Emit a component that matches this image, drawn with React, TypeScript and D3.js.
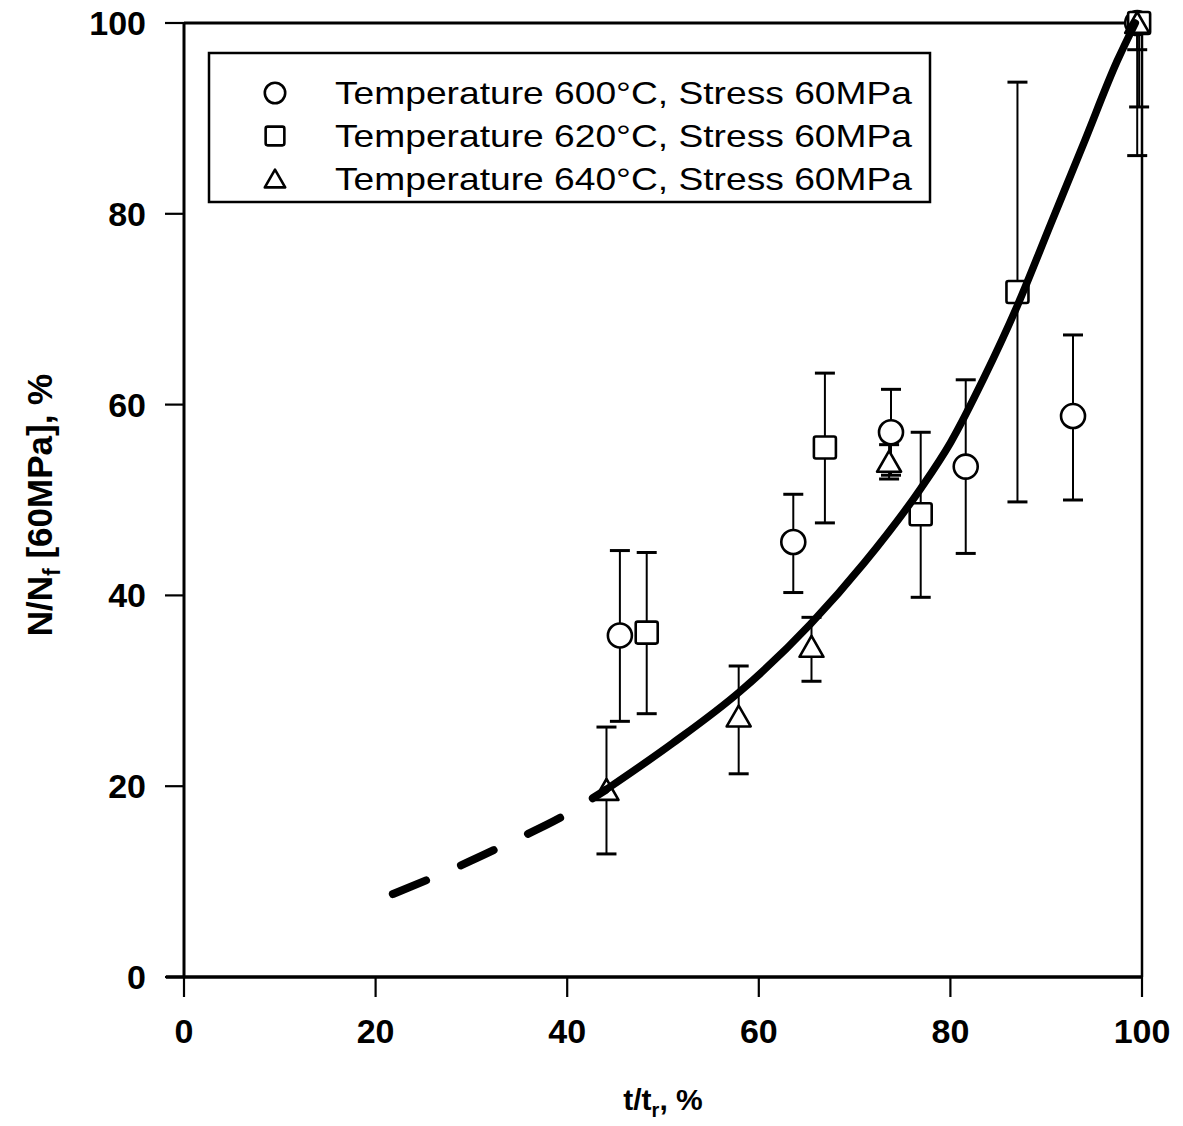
import React from "react";
import * as d3 from "d3";

// ---- data ----
const xTicks = [0, 20, 40, 60, 80, 100];
const yTicks = [0, 20, 40, 60, 80, 100];

type Pt = { x: number; y: number; lo: number; hi: number };

const series600: Pt[] = [
  { x: 45.5, y: 35.8, lo: 26.8, hi: 44.7 },
  { x: 63.6, y: 45.6, lo: 40.3, hi: 50.6 },
  { x: 73.8, y: 57.1, lo: 52.6, hi: 61.6 },
  { x: 81.6, y: 53.5, lo: 44.4, hi: 62.6 },
  { x: 92.8, y: 58.8, lo: 50.0, hi: 67.3 },
  { x: 99.5, y: 100, lo: 97.2, hi: 100 },
];
const series620: Pt[] = [
  { x: 48.3, y: 36.1, lo: 27.6, hi: 44.5 },
  { x: 66.9, y: 55.5, lo: 47.6, hi: 63.3 },
  { x: 76.9, y: 48.5, lo: 39.8, hi: 57.1 },
  { x: 87.0, y: 71.8, lo: 49.8, hi: 93.8 },
  { x: 99.7, y: 100, lo: 91.2, hi: 100 },
];
const series640: Pt[] = [
  { x: 44.1, y: 19.6, lo: 12.9, hi: 26.2 },
  { x: 57.9, y: 27.3, lo: 21.3, hi: 32.6 },
  { x: 65.5, y: 34.6, lo: 31.0, hi: 37.7 },
  { x: 73.6, y: 54.0, lo: 52.2, hi: 55.8 },
  { x: 99.5, y: 100, lo: 86.1, hi: 100 },
];

// fitted trend
const fitSolidX = [44, 51, 58, 65.4, 71, 76.9, 80, 83.5, 87, 90.5, 94, 97.4, 99.3];
const fitSolidY = [19.6, 24.5, 29.9, 37.0, 43.4, 51.2, 56.0, 62.8, 70.4, 79.0, 87.6, 96.0, 100];
const fitDashX = [21.8, 28, 34, 40, 44];
const fitDashY = [8.7, 11.3, 14.1, 17.1, 19.6];

const legendLabels = [
  "Temperature 600°C, Stress 60MPa",
  "Temperature 620°C, Stress 60MPa",
  "Temperature 640°C, Stress 60MPa",
];

const FONT = "'Liberation Sans', Arial, sans-serif";

function Marker({ kind, cx, cy, s = 1 }: { kind: number; cx: number; cy: number; s?: number }) {
  const sw = 2.6;
  if (kind === 0) return <circle cx={cx} cy={cy} r={12 * s} fill="white" stroke="black" strokeWidth={sw} />;
  if (kind === 1) {
    const h = 11 * s;
    return <rect x={cx - h} y={cy - h} width={2 * h} height={2 * h} rx={2} fill="white" stroke="black" strokeWidth={sw} />;
  }
  const w = 12 * s;
  const hh = 11 * s;
  return (
    <path
      d={`M${cx},${cy - hh}L${cx + w},${cy + hh * 0.9}L${cx - w},${cy + hh * 0.9}Z`}
      fill="white"
      stroke="black"
      strokeWidth={sw}
      strokeLinejoin="round"
    />
  );
}

export default function App() {
  const x = d3.scaleLinear().domain([0, 100]).range([184, 1142]);
  const y = d3.scaleLinear().domain([0, 100]).range([977, 23]);

  const line = d3
    .line<number>()
    .x((_, i) => x(fitSolidX[i]))
    .y((d) => y(d))
    .curve(d3.curveMonotoneX);
  const dline = d3
    .line<number>()
    .x((_, i) => x(fitDashX[i]))
    .y((d) => y(d))
    .curve(d3.curveMonotoneX);

  const all = [series600, series620, series640];

  return (
    <svg
      width={1183}
      height={1126}
      style={{ position: "absolute", left: 0, top: 0, background: "white" }}
      fontFamily={FONT}
    >
      <rect x={0} y={0} width={1183} height={1126} fill="white" />
      {/* frame */}
      <g stroke="black" fill="none">
        <line x1={x(0)} x2={x(100)} y1={y(100)} y2={y(100)} strokeWidth={3} />
        <line x1={x(100)} x2={x(100)} y1={y(100)} y2={y(0)} strokeWidth={2.5} />
        <line x1={x(0)} x2={x(0)} y1={y(100)} y2={y(0)} strokeWidth={3} />
        <line x1={166} x2={x(100)} y1={y(0)} y2={y(0)} strokeWidth={3.5} />
        {yTicks.map((t) => (
          <line key={"yt" + t} x1={165} x2={x(0)} y1={y(t)} y2={y(t)} strokeWidth={2.2} />
        ))}
        {xTicks.map((t) => (
          <line key={"xt" + t} x1={x(t)} x2={x(t)} y1={y(0)} y2={y(0) + 20} strokeWidth={2.2} />
        ))}
      </g>
      {/* tick labels */}
      <g fontWeight="bold" fontSize={34} fill="black">
        {yTicks.map((t) => (
          <text key={"yl" + t} x={146} y={y(t)} textAnchor="end" dominantBaseline="central">
            {t}
          </text>
        ))}
        {xTicks.map((t) => (
          <text key={"xl" + t} x={x(t)} y={1043} textAnchor="middle">
            {t}
          </text>
        ))}
      </g>
      {/* axis titles */}
      <text x={663} y={1110} textAnchor="middle" fontWeight="bold" fontSize={30}>
        t/t<tspan fontSize={20} dy={7}>r</tspan>
        <tspan dy={-7}>, %</tspan>
      </text>
      <text
        transform={`translate(52,505) rotate(-90)`}
        textAnchor="middle"
        fontWeight="bold"
        fontSize={35}
      >
        N/N<tspan fontSize={23} dy={8}>f</tspan>
        <tspan dy={-8}> [60MPa], %</tspan>
      </text>

      {/* error bars */}
      <g stroke="black" strokeWidth={2}>
        {all.map((s, k) =>
          s.map((p, i) => (
            <g key={`e${k}-${i}`}>
              <line x1={x(p.x)} x2={x(p.x)} y1={y(p.lo)} y2={y(p.hi)} />
              {p.hi > p.y && <line x1={x(p.x) - 10} x2={x(p.x) + 10} y1={y(p.hi)} y2={y(p.hi)} strokeWidth={3} />}
              <line x1={x(p.x) - 10} x2={x(p.x) + 10} y1={y(p.lo)} y2={y(p.lo)} strokeWidth={3} />
            </g>
          ))
        )}
      </g>
      {/* markers */}
      {all.map((s, k) => s.map((p, i) => <Marker key={`m${k}-${i}`} kind={k} cx={x(p.x)} cy={y(p.y)} />))}

      {/* fitted curve */}
      <path d={line(fitSolidY) || ""} fill="none" stroke="black" strokeWidth={7.5} strokeLinecap="round" />
      <path
        d={dline(fitDashY) || ""}
        fill="none"
        stroke="black"
        strokeWidth={8}
        strokeLinecap="round"
        strokeDasharray="36 38"
      />

      {/* legend */}
      <rect x={209} y={53} width={721} height={149} fill="white" stroke="black" strokeWidth={2.5} />
      {legendLabels.map((lab, i) => (
        <g key={"lg" + i}>
          <Marker kind={i} cx={275} cy={93 + i * 43} s={0.85} />
          <text
            x={335}
            y={93 + i * 43}
            dominantBaseline="central"
            fontSize={32}
            textLength={577}
            lengthAdjust="spacingAndGlyphs"
          >
            {lab}
          </text>
        </g>
      ))}
    </svg>
  );
}
